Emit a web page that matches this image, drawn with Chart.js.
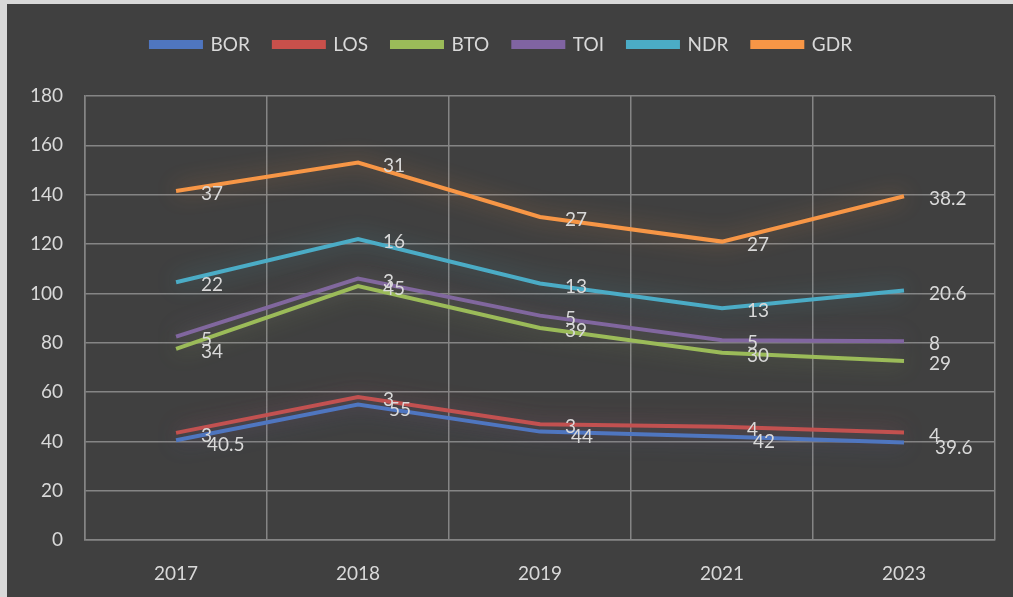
<!DOCTYPE html>
<html>
<head>
<meta charset="utf-8">
<script src="https://cdn.jsdelivr.net/npm/chart.js@4"></script>
<style>
  html, body { margin: 0; padding: 0; background: #d9d9d9; }
  #wrap { position: absolute; left: 7px; top: 4px; width: 1006px; height: 593px; background: #404040; }
</style>
</head>
<body>
<div id="wrap"><canvas id="chart"></canvas></div>
<script>
const years = ["2017", "2018", "2019", "2021", "2023"];
const bor = [40.5, 55, 44, 42, 39.6];
const los = [3, 3, 3, 4, 4];
const bto = [34, 45, 39, 30, 29];
const toi = [5, 3, 5, 5, 8];
const ndr = [22, 16, 13, 13, 20.6];
const gdr = [37, 31, 27, 27, 38.2];
const yTicks = [0, 20, 40, 60, 80, 100, 120, 140, 160, 180];

const textColor = "#d9d9d9";
const gridColor = "#858585";

const series = [
  { label: "BOR", data: bor, color: "#4f76c0" },
  { label: "LOS", data: los, color: "#c9504b" },
  { label: "BTO", data: bto, color: "#9bbb59" },
  { label: "TOI", data: toi, color: "#8064a2" },
  { label: "NDR", data: ndr, color: "#4bacc6" },
  { label: "GDR", data: gdr, color: "#f79646" },
];

// soft glow under each line, like the office chart
const glowPlugin = {
  id: "glow",
  beforeDatasetDraw(chart, args) {
    const ctx = chart.ctx;
    ctx.save();
    ctx.shadowColor = args.meta.dataset.options.borderColor + "77";
    ctx.shadowBlur = 22;
  },
  afterDatasetDraw(chart) {
    chart.ctx.restore();
  },
};

// more room between legend and plot
const legendGap = {
  id: "legendGap",
  beforeInit(chart) {
    const fit = chart.legend.fit;
    chart.legend.fit = function () {
      fit.call(this);
      this.height += 32;
    };
  },
};

// value labels to the right of each point
const labelPlugin = {
  id: "valueLabels",
  afterDatasetsDraw(chart) {
    const ctx = chart.ctx;
    ctx.save();
    ctx.font = "19px Lato";
    ctx.fillStyle = textColor;
    ctx.textAlign = "left";
    ctx.textBaseline = "middle";
    chart.data.datasets.forEach((ds, i) => {
      const meta = chart.getDatasetMeta(i);
      const dx = i === 0 ? 31 : 25;
      const dy = i === 0 ? 5 : 3;
      meta.data.forEach((pt, j) => {
        ctx.fillText(String(ds.data[j]), pt.x + dx, pt.y + dy);
      });
    });
    ctx.restore();
  },
};

new Chart(document.getElementById("chart"), {
  type: "line",
  data: {
    labels: years,
    datasets: series.map((s) => ({
      label: s.label,
      data: s.data,
      borderColor: s.color,
      backgroundColor: s.color,
      borderWidth: 4,
      pointRadius: 0,
      tension: 0,
      fill: false,
    })),
  },
  options: {
    responsive: true,
    maintainAspectRatio: false,
    animation: false,
    layout: { padding: { left: 1, right: 18, top: 7, bottom: -10 } },
    plugins: {
      legend: {
        position: "top",
        labels: {
          color: textColor,
          font: { size: 19, family: "Lato" },
          boxWidth: 50,
          boxHeight: 5,
          padding: 24,
        },
      },
      tooltip: { enabled: false },
    },
    scales: {
      x: {
        offset: true,
        grid: { color: gridColor, lineWidth: 1.5, offset: true, drawTicks: false },
        border: { color: gridColor, width: 1.5 },
        ticks: { color: textColor, font: { size: 19, family: "Lato" }, padding: 22 },
      },
      y: {
        stacked: true,
        min: yTicks[0],
        max: yTicks[yTicks.length - 1],
        afterBuildTicks: (axis) => { axis.ticks = yTicks.map((v) => ({ value: v })); },
        grid: { color: gridColor, lineWidth: 1.5, drawTicks: false },
        border: { color: gridColor, width: 1.5 },
        ticks: { color: textColor, font: { size: 19, family: "Lato" }, padding: 22 },
      },
    },
  },
  plugins: [glowPlugin, legendGap, labelPlugin],
});
</script>
</body>
</html>
